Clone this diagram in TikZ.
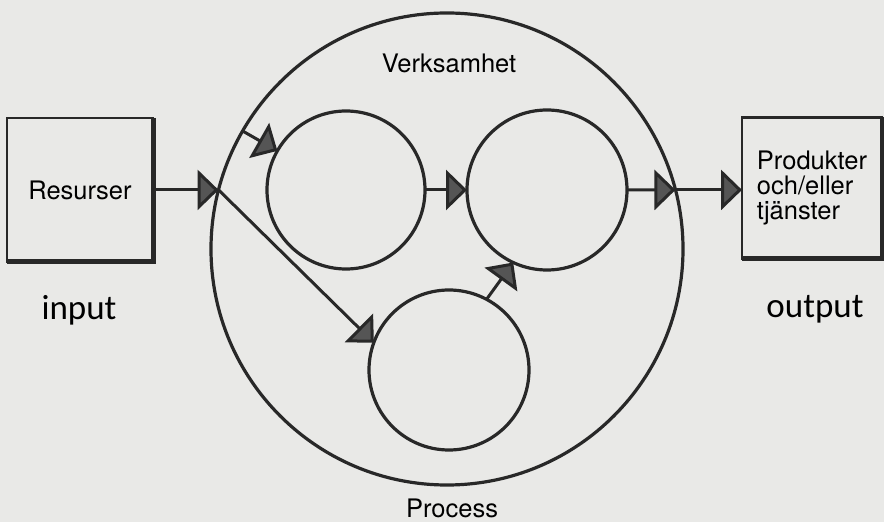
\documentclass[tikz,border=0pt]{standalone}
\usepackage{fontspec}
\setmainfont{TeX Gyre Heros}
\newfontfamily\iofont{Carlito}
\usepackage{tikz}
\usetikzlibrary{arrows.meta}
\definecolor{paper}{RGB}{233,233,231}
\definecolor{ink}{RGB}{40,40,40}
\definecolor{headfill}{RGB}{85,85,85}

\tikzset{
  ring/.style={circle,draw=ink,line width=3.2pt,inner sep=0pt,outer sep=0pt},
  framebox/.style={rectangle,draw=ink,line width=2.8pt,inner sep=0pt,outer sep=0pt},
  shade/.style={draw=ink,line width=5pt},
  flow/.style={draw=ink,line width=3pt,-{Triangle[length=21pt,width=40pt,fill=headfill]}},
  iolabel/.style={anchor=base,font=\iofont\fontsize{35}{35}\selectfont},
}

\begin{document}
\begin{tikzpicture}[x=1pt,y=1pt,font=\fontsize{25.5}{25}\selectfont]
\useasboundingbox (0,0) rectangle (884,522);
\fill[paper] (0,0) rectangle (884,522);
% the activity and its processes
\node[ring,minimum size=472pt] (verks) at (447,273) {};
\node[ring,minimum size=158pt] (p1) at (346,332) {};
\node[ring,minimum size=160pt] (p2) at (547,332) {};
\node[ring,minimum size=160pt] (p3) at (449,152) {};
\node[anchor=base] (vtitle) at (449,449) {Verksamhet};
\node[anchor=base] (ptitle) at (452,4) {Process};
% resources in, products out
\node[framebox,minimum width=146pt,minimum height=144pt] (res) at (80,332) {Resurser};
\node[framebox,minimum width=140pt,minimum height=141pt,align=left] (prod) at (812,334) {Produkter\\och/eller\\tjänster};
\draw[shade] (res.north east) -- (res.south east) -- (res.south west);
\draw[shade] (prod.north east) -- (prod.south east) -- (prod.south west);
\node[iolabel] (inlbl) at (79,202) {input};
\node[iolabel] (outlbl) at (815,204) {output};
% flows
\path (verks.center) ++(165.5:236) coordinate (in);
\path (verks.center) ++(14.5:236) coordinate (out);
\draw[flow] (res.east |- in) -- (in);
\draw[flow] (in) -- (p3.160);
\draw[flow] (verks.150) -- (p1);
\draw[flow] (p1) -- (p2);
\draw[flow] (p3.62) -- (p2.245);
\draw[flow] (p2) -- (out);
\draw[flow] (out) -- (prod.west |- out);
\end{tikzpicture}
\end{document}
